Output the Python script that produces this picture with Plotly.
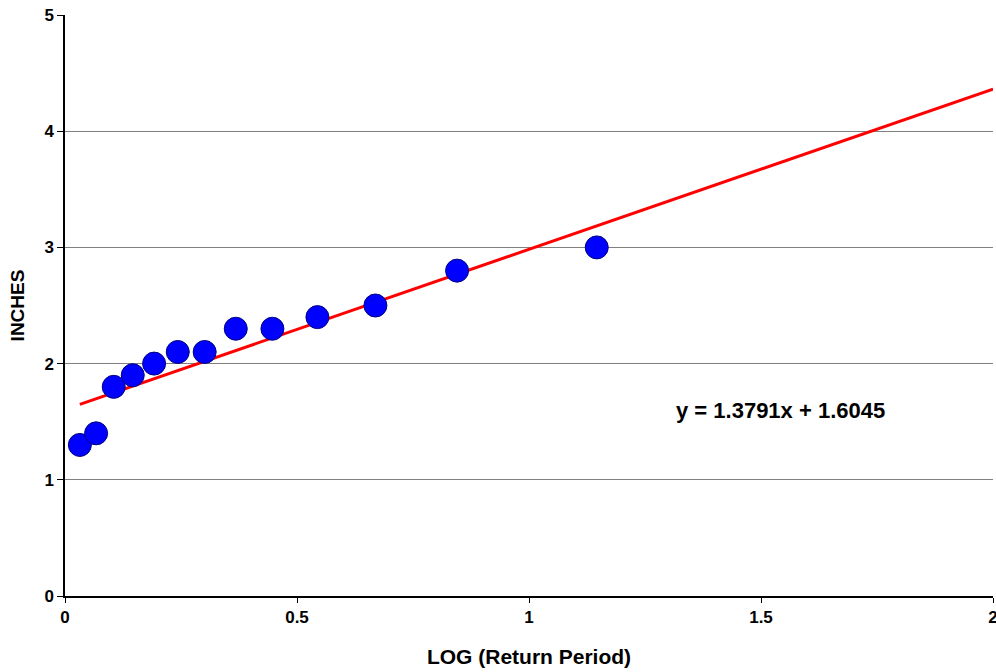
import plotly.graph_objects as go

# Data
log_return_period = [0.032, 0.067, 0.105, 0.146, 0.192, 0.243, 0.301, 0.368, 0.447, 0.544, 0.669, 0.845, 1.146]
inches = [1.3, 1.4, 1.8, 1.9, 2.0, 2.1, 2.1, 2.3, 2.3, 2.4, 2.5, 2.8, 3.0]

trend_slope = 1.3791
trend_intercept = 1.6045
trend_x_end = 2.0

x_ticks = [0, 0.5, 1, 1.5, 2]
x_tick_labels = ["0", "0.5", "1", "1.5", "2"]
y_ticks = [0, 1, 2, 3, 4, 5]

trend_x = [min(log_return_period), trend_x_end]
trend_y = [trend_slope * v + trend_intercept for v in trend_x]

font_family = "Liberation Sans, Arial, sans-serif"

fig = go.Figure()
fig.add_trace(go.Scatter(
    x=trend_x, y=trend_y, mode="lines",
    line=dict(color="#FF0000", width=3),
    showlegend=False, hoverinfo="skip", cliponaxis=False,
))
fig.add_trace(go.Scatter(
    x=log_return_period, y=inches, mode="markers",
    marker=dict(size=23, color="#0000FF", line=dict(color="#000080", width=1)),
    showlegend=False,
))

fig.add_annotation(
    x=1.543, y=1.6, xref="x", yref="y",
    text="<b>y = 1.3791x + 1.6045</b>", showarrow=False,
    font=dict(family=font_family, size=22, color="#000000"),
)

fig.update_layout(
    width=996, height=672,
    margin=dict(l=65, r=3, t=15, b=76),
    paper_bgcolor="white", plot_bgcolor="white",
    font=dict(family=font_family, color="#000000"),
    xaxis=dict(
        range=[0, 2], tickvals=x_ticks, ticktext=[f"<b>{t}</b>" for t in x_tick_labels],
        ticks="outside", ticklen=5, tickcolor="#000000", tickwidth=1,
        showline=True, linecolor="#000000", linewidth=1.5,
        showgrid=False, zeroline=False, automargin=False,
        ticklabeloverflow="allow",
        tickfont=dict(size=17, family=font_family),
        title=dict(text="<b>LOG (Return Period)</b>", font=dict(size=21, family=font_family), standoff=23),
    ),
    yaxis=dict(
        range=[0, 5], tickvals=y_ticks, ticktext=[f"<b>{t}</b>" for t in y_ticks],
        ticks="outside", ticklen=6, tickcolor="#000000", tickwidth=1,
        showline=True, linecolor="#000000", linewidth=1.5,
        showgrid=True, gridcolor="#808080", gridwidth=1,
        zeroline=False, automargin=False,
        ticklabeloverflow="allow",
        tickfont=dict(size=17, family=font_family),
        title=dict(text="<b>INCHES</b>", font=dict(size=19, family=font_family), standoff=15),
    ),
)

fig.write_html(
    "out.html",
    config={"displayModeBar": False},
    post_script="document.body.style.margin='0';document.body.style.overflow='hidden';",
)
